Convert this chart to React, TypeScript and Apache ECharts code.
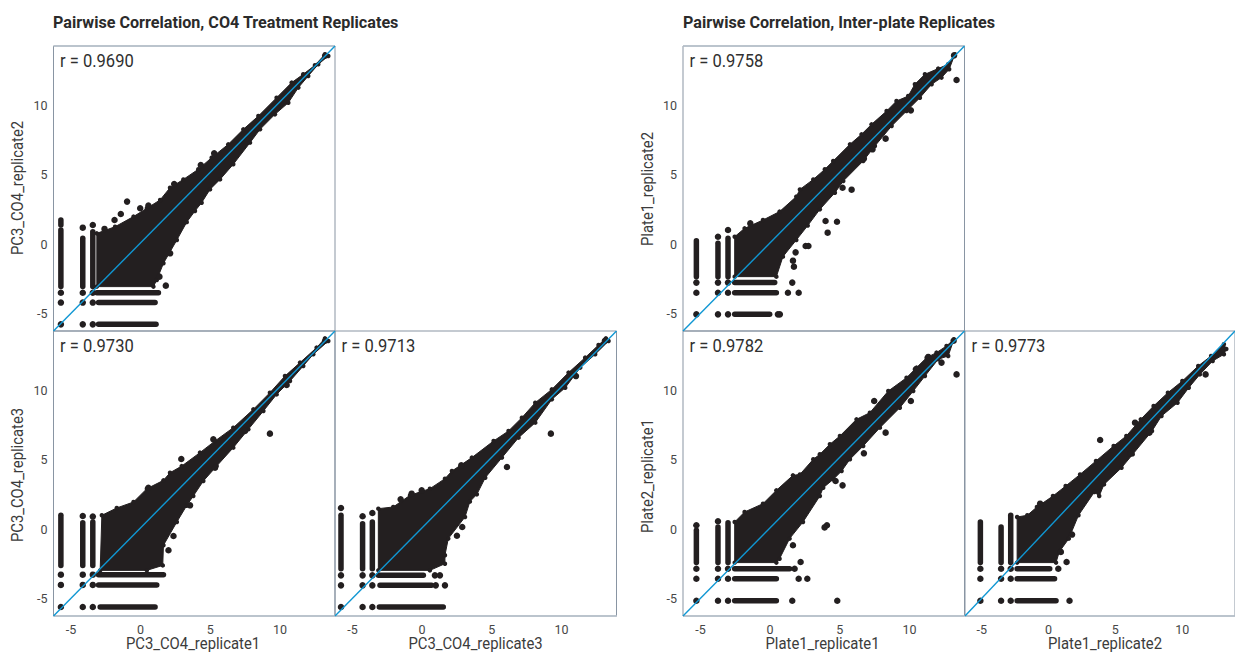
import React, { useEffect, useRef } from "react";
import * as echarts from "echarts";

const xRange = [-6.25, 13.95];
const yRange = [-6.25, 14.3];
const tickValues = [-5, 0, 5, 10];
const titles = ["Pairwise Correlation, CO4 Treatment Replicates", "Pairwise Correlation, Inter-plate Replicates"];

const r = {
  co4a: "r = 0.9690", co4b: "r = 0.9730", co4c: "r = 0.9713",
  plateA: "r = 0.9758", plateB: "r = 0.9782", plateC: "r = 0.9773",
};

const co4aOutline = [[-3.14,0.79],[-1.83,1.27],[-0.51,2.0],[0.45,2.6],[1.4,3.2],[2.11,4.08],[3.07,4.68],[4.14,5.41],[5.1,6.25],[6.29,7.21],[7.37,8.29],[8.45,9.25],[9.76,10.57],[10.84,11.66],[11.67,12.26],[12.51,12.91],[13.23,13.7],[13.47,13.58],[12.75,12.98],[12.03,12.14],[11.32,11.3],[10.6,10.21],[9.64,9.37],[8.57,8.29],[7.85,7.33],[6.65,5.77],[5.7,4.68],[4.98,3.96],[4.38,3.0],[3.9,2.4],[3.31,1.6],[2.6,0.31],[1.64,-1.37],[1.16,-2.57],[0.92,-3.05],[-3.14,-3.05]];
const co4aStripes = [[-5.72,1.75,-5.72,1.39],[-5.72,1.03,-5.72,-3.05],[-4.15,0.43,-4.15,-3.05],[-3.43,0.91,-3.43,-3.05],[-3.14,-3.49,1.28,-3.49],[-3.02,-4.2,1.04,-4.2],[-3.02,-5.77,1.11,-5.77]];
const co4aDots = [[-5.72,-3.49],[-5.72,-4.2],[-5.72,-5.77],[-4.15,1.2],[-4.15,-3.49],[-4.15,-4.2],[-4.15,-5.77],[-3.43,1.39],[-3.43,-3.49],[-3.43,-4.2],[-3.43,-5.77],[-0.97,3.08],[-1.42,2.19],[-1.87,1.75],[-2.59,1.11],[-0.03,2.6],[0.56,2.79],[2.41,4.35],[4.32,5.72],[5.28,6.56],[1.81,-2.98],[1.35,-2.33],[2.12,-0.65],[13.24,13.6]];

const co4bOutline = [[-2.78,1.01],[-1.71,1.54],[-0.51,1.97],[0.45,2.93],[1.64,3.53],[2.11,4.08],[2.95,4.56],[4.26,5.53],[5.34,6.37],[6.65,7.33],[8.09,8.65],[9.28,9.85],[10.36,11.05],[11.44,12.02],[12.63,13.1],[13.23,13.77],[13.47,13.58],[12.39,12.62],[11.67,11.78],[10.72,10.69],[9.76,9.73],[8.81,8.53],[7.73,7.21],[6.65,5.89],[5.46,4.56],[4.5,3.48],[3.78,2.4],[3.3,1.7],[2.6,0.53],[1.64,-1.15],[1.59,-2.6],[0.45,-2.96],[-2.9,-2.96]];
const co4bStripes = [[-5.72,1.01,-5.72,-2.6],[-4.15,0.48,-4.15,-2.6],[-3.43,0.53,-3.43,-2.6],[-3.02,-3.27,1.64,-3.27],[-3.02,-4.01,1.16,-4.01],[-2.9,-5.6,1.04,-5.6]];
const co4bDots = [[-5.72,-3.27],[-5.72,-4.01],[-5.72,-5.6],[-4.15,0.96],[-4.15,-3.27],[-4.15,-4.01],[-4.15,-5.6],[-3.43,0.92],[-3.43,-3.27],[-3.43,-4.01],[-3.43,-5.6],[9.28,6.9],[2.92,5.07],[5.22,6.49],[7.49,7.09],[10.48,10.41],[5.34,4.44],[0.56,3.0],[3.55,1.73],[2.36,-0.48],[2.0,-1.51],[13.24,13.6]];

const co4cOutline = [[-3.14,1.49],[-2.07,1.61],[-0.87,2.45],[0.56,2.93],[1.64,3.65],[2.14,4.2],[3.57,5.17],[5.13,6.37],[6.2,7.09],[7.16,8.05],[8.12,9.13],[9.31,10.09],[10.51,11.3],[11.7,12.38],[12.66,13.29],[13.19,13.77],[13.38,13.58],[12.42,12.62],[11.35,11.66],[10.27,10.21],[9.31,9.37],[8.12,7.69],[6.92,6.61],[5.73,5.17],[4.53,3.72],[3.93,2.52],[3.43,2.0],[3.08,0.89],[1.88,-0.67],[1.64,-1.87],[1.64,-2.48],[0.56,-2.96],[-3.14,-2.96]];
const co4cStripes = [[-5.82,1.01,-5.82,-2.84],[-4.27,0.41,-4.27,-2.84],[-3.57,0.53,-3.57,-2.84],[-3.14,-3.32,0.09,-3.32],[-3.02,-4.04,0.68,-4.04],[-3.07,-5.6,1.52,-5.6]];
const co4cDots = [[-5.82,1.54],[-5.82,-3.32],[-5.82,-4.04],[-5.82,-5.6],[-4.27,0.94],[-4.27,-3.32],[-4.27,-4.04],[-4.27,-5.6],[-3.57,1.18],[-3.57,-3.32],[-3.57,-4.04],[-3.57,-5.6],[0.92,-3.32],[1.28,-3.32],[0.98,-4.04],[1.64,-4.04],[9.24,6.9],[6.09,4.49],[2.81,4.61],[11.04,11.05],[2.88,0.17],[2.5,-0.46],[-1.54,2.16],[-0.75,2.57],[-0.03,2.81],[13.12,13.6]];

const plateAOutline = [[-2.54,0.55],[-1.83,1.15],[-0.51,1.75],[0.68,2.36],[1.88,3.44],[2.14,3.96],[3.1,4.68],[3.93,5.41],[4.53,6.01],[5.73,7.21],[6.56,7.93],[7.28,8.65],[8.36,9.61],[9.07,10.33],[9.91,10.69],[10.39,11.54],[11.11,12.26],[12.06,12.67],[12.78,12.98],[13.26,13.7],[12.85,12.62],[12.3,12.02],[11.59,11.54],[10.75,10.57],[9.79,9.61],[8.72,8.53],[7.52,7.09],[6.68,6.01],[5.25,4.56],[4.65,3.72],[3.57,2.52],[2.7,1.35],[1.88,0.31],[0.92,-0.89],[0.45,-2.33],[-2.54,-2.33]];
const plateAStripes = [[-5.29,0.26,-5.29,-2.33],[-3.74,0.07,-3.74,-2.33],[-3.02,0.43,-3.02,-2.33],[-2.54,-2.76,0.33,-2.76],[-2.54,-3.49,0.45,-3.49],[-2.54,-5.05,-0.03,-5.05]];
const plateADots = [[-5.29,-2.76],[-5.29,-3.49],[-5.29,-5.05],[-3.74,0.55],[-3.74,-2.76],[-3.74,-3.49],[-3.74,-5.05],[-3.02,1.03],[-3.02,-2.76],[-3.02,-3.49],[-3.02,-5.05],[0.56,-5.05],[0.7,-5.05],[1.28,-3.49],[2.05,-3.49],[13.38,11.85],[8.29,7.62],[5.85,3.94],[5.2,4.08],[10.1,9.66],[6.73,6.18],[7.35,6.85],[3.98,1.68],[4.8,1.63],[4.13,0.84],[2.55,-0.12],[2.75,-0.12],[1.83,-0.58],[1.64,-1.18],[1.71,-1.61],[1.59,-2.76],[-1.42,1.51],[13.2,13.62]];

const plateBOutline = [[-2.54,0.53],[-1.83,1.25],[-0.51,1.85],[0.45,2.81],[1.64,3.89],[2.14,3.96],[3.1,5.05],[3.57,5.41],[4.29,6.13],[5.01,6.73],[6.2,7.93],[7.16,8.41],[8.48,9.97],[9.79,10.93],[10.51,11.66],[11.23,12.38],[11.94,12.74],[12.66,13.22],[13.19,13.7],[12.78,12.5],[12.06,12.26],[11.11,11.05],[10.27,9.97],[9.31,8.77],[7.88,7.33],[6.68,6.01],[5.73,5.05],[5.13,4.2],[4.53,3.6],[3.81,3.0],[3.57,2.4],[2.36,0.53],[1.4,-0.67],[0.68,-2.12],[0.45,-2.4],[-2.54,-2.4]];
const plateBStripes = [[-5.29,-0.07,-5.29,-2.4],[-3.74,0.17,-3.74,-2.4],[-3.02,0.48,-3.02,-2.4],[-2.54,-2.84,1.4,-2.84],[-2.54,-3.56,0.45,-3.56],[-2.54,-5.15,0.45,-5.15]];
const plateBDots = [[-5.29,0.29],[-5.29,-2.84],[-5.29,-3.56],[-5.29,-5.15],[-3.74,0.58],[-3.74,-2.84],[-3.74,-3.56],[-3.74,-5.15],[-3.02,-2.84],[-3.02,-3.56],[-3.02,-5.15],[1.76,-2.84],[2.05,-3.56],[2.67,-3.56],[1.59,-5.15],[4.82,-5.15],[13.38,11.17],[12.3,12.02],[7.47,9.25],[10.1,9.25],[8.29,6.97],[6.73,5.48],[5.2,3.17],[4.7,3.48],[11.35,12.43],[10.46,11.54],[4.08,0.29],[3.91,0.14],[2.19,-2.36],[1.64,-1.15],[13.17,13.6]];

const plateCOutline = [[-2.35,0.89],[-1.59,1.01],[-0.87,1.61],[0.33,2.4],[1.28,3.12],[2.36,3.96],[3.55,4.93],[4.87,6.01],[5.82,6.73],[6.9,7.93],[7.86,8.89],[8.93,9.85],[10.01,10.69],[11.2,11.78],[12.16,12.5],[13.12,13.34],[13.3,13.0],[13.12,12.62],[12.28,12.14],[11.32,11.17],[10.49,10.21],[9.65,9.13],[8.45,8.17],[7.74,7.09],[6.3,5.41],[5.46,4.44],[4.15,3.24],[3.79,2.4],[3.43,2.69],[2.24,1.01],[1.52,-0.67],[0.8,-1.63],[0.56,-2.4],[-2.35,-2.4]];
const plateCStripes = [[-5.1,0.53,-5.1,-2.4],[-3.55,0.17,-3.55,-2.4],[-2.83,1.01,-2.83,-2.4],[-2.35,-2.84,0.09,-2.84],[-2.35,-3.56,0.45,-3.56],[-2.35,-5.15,0.56,-5.15]];
const plateCDots = [[-5.1,-2.84],[-5.1,-3.56],[-5.1,-5.15],[-3.55,-2.84],[-3.55,-3.56],[-3.55,-5.15],[-2.83,-2.84],[-2.83,-3.56],[-2.83,-5.15],[0.73,-2.84],[1.57,-5.15],[3.86,6.44],[11.75,11.17],[6.47,7.69],[7.54,6.97],[6.13,5.45],[1.76,-0.38],[1.35,-2.36],[-0.63,1.85],[0.92,-1.63]];

const axisNamesX = ["PC3_CO4_replicate1", "PC3_CO4_replicate3", "Plate1_replicate1", "Plate1_replicate2"];
const axisNamesY = ["PC3_CO4_replicate2", "PC3_CO4_replicate3", "Plate1_replicate2", "Plate2_replicate1"];

const INK = "#231F20";
const LINE = "#1097D3";
const FRAME = "#8995A3";
const EDGE = "#B9C2CB";
const FONT = "Roboto, sans-serif";

const panels = [
  { left: 53.5, top: 46, outline: co4aOutline, stripes: co4aStripes, dots: co4aDots, xLabels: false, yLabels: true, label: r.co4a },
  { left: 53.5, top: 331, outline: co4bOutline, stripes: co4bStripes, dots: co4bDots, xLabels: true, yLabels: true, label: r.co4b },
  { left: 335, top: 331, outline: co4cOutline, stripes: co4cStripes, dots: co4cDots, xLabels: true, yLabels: false, label: r.co4c },
  { left: 683, top: 46, outline: plateAOutline, stripes: plateAStripes, dots: plateADots, xLabels: false, yLabels: true, label: r.plateA },
  { left: 683, top: 331, outline: plateBOutline, stripes: plateBStripes, dots: plateBDots, xLabels: true, yLabels: true, label: r.plateB },
  { left: 965, top: 331, outline: plateCOutline, stripes: plateCStripes, dots: plateCDots, xLabels: true, yLabels: false, label: r.plateC },
];

function textEl(text: string, x: number, y: number, size: number, scaleX: number, opts: any = {}) {
  return {
    type: "text", x, y, scaleX, scaleY: 1, rotation: opts.rotation || 0, silent: true,
    style: {
      text, fill: opts.fill || "#333333", textAlign: opts.align || "left", textVerticalAlign: "middle",
      font: `${opts.weight || "normal"} ${size}px ${FONT}`,
    },
  };
}

function edgeLine(x1: number, x2: number, y: number) {
  return { type: "line", silent: true, shape: { x1, y1: y, x2, y2: y }, style: { stroke: EDGE, lineWidth: 1.6 } };
}

function buildOption() {
  const grid: any[] = [], xAxis: any[] = [], yAxis: any[] = [], series: any[] = [], graphic: any[] = [];
  panels.forEach((p, i) => {
    grid.push({ left: p.left, top: p.top, width: 281.5, height: 285, show: true, backgroundColor: "transparent", borderColor: FRAME, borderWidth: 1, containLabel: false });
    xAxis.push({
      type: "value", gridIndex: i, min: xRange[0], max: xRange[1], splitLine: { show: false }, axisLine: { show: false },
      axisTick: { show: false },
      axisLabel: { show: p.xLabels, customValues: tickValues, margin: 7, color: "#474747", fontSize: 12.5, fontFamily: FONT },
    });
    yAxis.push({
      type: "value", gridIndex: i, min: yRange[0], max: yRange[1], splitLine: { show: false }, axisLine: { show: false },
      axisTick: { show: false },
      axisLabel: { show: p.yLabels, customValues: tickValues, margin: 6, color: "#474747", fontSize: 12.5, fontFamily: FONT },
    });
    series.push({
      type: "custom", xAxisIndex: i, yAxisIndex: i, coordinateSystem: "cartesian2d", clip: true, silent: true,
      data: p.outline,
      renderItem: (params: any, api: any) => params.dataIndex === 0 ? ({
        type: "polygon",
        shape: { points: p.outline.map((v) => api.coord(v)) },
        style: { fill: INK, stroke: INK, lineWidth: 1, lineJoin: "round" },
      }) : null,
    });
    series.push({
      type: "custom", xAxisIndex: i, yAxisIndex: i, coordinateSystem: "cartesian2d", clip: true, silent: true,
      data: p.stripes,
      renderItem: (_: any, api: any) => {
        const a = api.coord([api.value(0), api.value(1)]);
        const b = api.coord([api.value(2), api.value(3)]);
        return { type: "line", shape: { x1: a[0], y1: a[1], x2: b[0], y2: b[1] }, style: { stroke: INK, lineWidth: 5.5, lineCap: "round" } };
      },
    });
    series.push({ type: "scatter", xAxisIndex: i, yAxisIndex: i, data: p.outline, symbol: "circle", symbolSize: 4.5, itemStyle: { color: INK, opacity: 1 }, silent: true, clip: true });
    series.push({ type: "scatter", xAxisIndex: i, yAxisIndex: i, data: p.dots, symbol: "circle", symbolSize: 6.5, itemStyle: { color: INK, opacity: 1 }, silent: true, clip: true });
    series.push({
      type: "line", xAxisIndex: i, yAxisIndex: i, data: [[xRange[0], yRange[0]], [xRange[1], yRange[1]]], symbol: "none", silent: true, clip: true,
      lineStyle: { color: LINE, width: 1.4 },
    });
    graphic.push(textEl(p.label, p.left + 6.5, p.top + 15, 18, 0.92, { fill: "#2F2F2F" }));
  });
  graphic.push(edgeLine(53.5, 335, 46), edgeLine(683, 965, 46), edgeLine(53.5, 617, 616), edgeLine(683, 1235, 616));
  graphic.push(textEl(titles[0], 53, 22.5, 17, 0.95, { weight: "bold", fill: "#2B2B2B" }));
  graphic.push(textEl(titles[1], 683, 22.5, 17, 0.95, { weight: "bold", fill: "#2B2B2B" }));
  const xPos = [193, 475.5, 822.5, 1105];
  axisNamesX.forEach((t, i) => graphic.push(textEl(t, xPos[i], 643, 16.5, 0.9, { align: "center", fill: "#3C3C3C" })));
  const yPos = [[17, 188], [17, 475], [647, 189], [647, 476]];
  axisNamesY.forEach((t, i) => graphic.push(textEl(t, yPos[i][0], yPos[i][1], 16.5, 0.9, { align: "center", rotation: Math.PI / 2, fill: "#3C3C3C" })));
  return { animation: false, backgroundColor: "#FFFFFF", grid, xAxis, yAxis, series, graphic };
}

export default function App() {
  const ref = useRef<HTMLDivElement>(null);
  useEffect(() => {
    const chart = echarts.init(ref.current!, null, { renderer: "svg" });
    chart.setOption(buildOption() as any);
    return () => chart.dispose();
  }, []);
  return <div ref={ref} style={{ position: "fixed", left: 0, top: 0, width: 1235, height: 653 }} />;
}
